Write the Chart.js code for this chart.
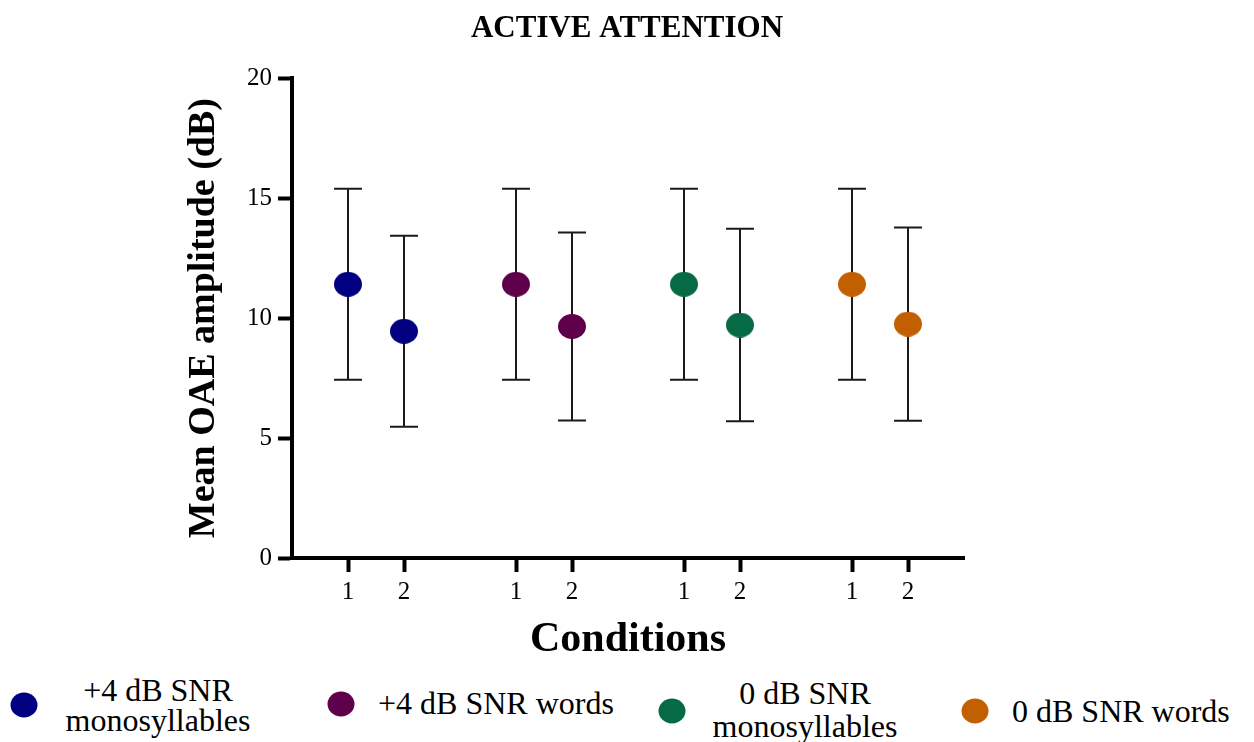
<!DOCTYPE html>
<html>
<head>
<meta charset="utf-8">
<script src="https://cdn.jsdelivr.net/npm/chart.js@4"></script>
<style>
  body { margin: 0; background: #fff; width: 1254px; height: 742px; overflow: hidden; position: relative; font-family: "Liberation Serif", "Times New Roman", serif; }
  #myChart { position: absolute; left: 0; top: 0; }
  .dot { position: absolute; border-radius: 50%; width: 27px; height: 25px; transform: translate(-50%, -50%); }
  .lbl { position: absolute; font-size: 32px; color: #000; white-space: nowrap; }
</style>
</head>
<body>
<canvas id="myChart" width="1254" height="670"></canvas>
<div id="legend"></div>
<script>
  const seriesNames = ['+4 dB SNR monosyllables', '+4 dB SNR words', '0 dB SNR monosyllables', '0 dB SNR words'];
  const seriesColors = ['#000080', '#5e004a', '#066a44', '#c25f00'];
  const conditions = ['1', '2'];
  // mean and SD for condition 1 and 2, one array per series
  const mean4Mono = [11.41, 9.45];
  const mean4Words = [11.41, 9.65];
  const mean0Mono = [11.41, 9.71];
  const mean0Words = [11.41, 9.75];
  const sd4Mono = [3.98, 3.98];
  const sd4Words = [3.98, 3.92];
  const sd0Mono = [3.98, 4.01];
  const sd0Words = [3.98, 4.03];
  const yTicks = [0, 5, 10, 15, 20];

  const means = [mean4Mono, mean4Words, mean0Mono, mean0Words];
  const sds = [sd4Mono, sd4Words, sd0Mono, sd0Words];

  // slot on the x axis: each series takes two slots, then a gap
  const slot = (s, c) => s * 3 + c + 1;
  const xSlots = [];
  const xTickLabels = [];
  seriesNames.forEach((n, s) => conditions.forEach((c, i) => { xSlots.push(slot(s, i)); xTickLabels.push(c); }));

  const makeDot = (color) => {
    const c = document.createElement('canvas');
    c.width = 28; c.height = 25;
    const g = c.getContext('2d');
    g.fillStyle = color;
    g.beginPath();
    g.ellipse(14, 12.5, 14, 12.5, 0, 0, Math.PI * 2);
    g.fill();
    return c;
  };

  const datasets = seriesNames.map((name, s) => ({
    label: name,
    data: conditions.map((c, i) => ({ x: slot(s, i), y: means[s][i], sd: sds[s][i] })),
    pointStyle: makeDot(seriesColors[s]),
    backgroundColor: seriesColors[s],
    borderColor: seriesColors[s],
    pointRadius: 13,
    showLine: false
  }));

  const errorBars = {
    id: 'errorBars',
    beforeDatasetsDraw(chart) {
      const { ctx, scales: { x, y } } = chart;
      ctx.save();
      ctx.strokeStyle = '#1a1a1a';
      ctx.lineWidth = 2;
      chart.data.datasets.forEach(ds => {
        ds.data.forEach(p => {
          const px = x.getPixelForValue(p.x);
          const top = y.getPixelForValue(p.y + p.sd);
          const bot = y.getPixelForValue(p.y - p.sd);
          ctx.beginPath();
          ctx.moveTo(px, top); ctx.lineTo(px, bot);
          ctx.moveTo(px - 14, top); ctx.lineTo(px + 14, top);
          ctx.moveTo(px - 14, bot); ctx.lineTo(px + 14, bot);
          ctx.stroke();
        });
      });
      ctx.restore();
    }
  };

  new Chart(document.getElementById('myChart'), {
    type: 'scatter',
    data: { datasets: datasets },
    plugins: [errorBars],
    options: {
      responsive: false,
      animation: false,
      layout: { padding: 0 },
      plugins: {
        legend: { display: false },
        tooltip: { enabled: false },
        title: {
          display: true,
          text: 'ACTIVE ATTENTION',
          color: '#000',
          font: { family: 'Liberation Serif', size: 31, weight: 'bold' },
          padding: { top: 10, bottom: 31 }
        }
      },
      scales: {
        x: {
          type: 'linear',
          min: 0,
          max: 12,
          afterBuildTicks: (scale) => { scale.ticks = xSlots.map(v => ({ value: v })); },
          afterFit: (scale) => { scale.height = 112; },
          ticks: {
            autoSkip: false,
            maxRotation: 0,
            padding: 5,
            color: '#000',
            font: { family: 'Liberation Serif', size: 25 },
            callback: (value, index) => xTickLabels[index]
          },
          grid: { drawOnChartArea: false, drawTicks: true, tickLength: 14, tickWidth: 4, tickColor: '#000' },
          border: { display: true, width: 4, color: '#000' },
          title: {
            display: true,
            text: 'Conditions',
            color: '#000',
            font: { family: 'Liberation Serif', size: 42, weight: 'bold' },
            padding: { top: 0, bottom: 5 }
          }
        },
        y: {
          min: 0,
          max: 20,
          afterBuildTicks: (scale) => { scale.ticks = yTicks.map(v => ({ value: v })); },
          afterFit: (scale) => { scale.width = 292; },
          ticks: {
            padding: 6,
            color: '#000',
            font: { family: 'Liberation Serif', size: 25 }
          },
          grid: { drawOnChartArea: false, drawTicks: true, tickLength: 14, tickWidth: 4, tickColor: '#000' },
          border: { display: true, width: 4, color: '#000' },
          title: {
            display: true,
            text: 'Mean OAE amplitude (dB)',
            color: '#000',
            font: { family: 'Liberation Serif', size: 38, weight: 'bold' },
            padding: { top: 181, bottom: 0 }
          }
        },
        // empty right-hand space so the title stays centred on the page
        spacer: {
          position: 'right',
          min: 0,
          max: 20,
          afterFit: (scale) => { scale.width = 290; },
          ticks: { display: false },
          grid: { display: false },
          border: { display: false }
        }
      }
    }
  });

  // legend below the chart, split two-word labels like the figure
  const legendSpots = [
    { dot: [24, 705], text: [158, 705], lines: ['+4 dB SNR', 'monosyllables'], lh: 30, center: true },
    { dot: [341, 704], text: [378, 703], lines: ['+4 dB SNR words'], lh: 32 },
    { dot: [672, 711], text: [805, 710], lines: ['0 dB SNR', 'monosyllables'], lh: 33, center: true },
    { dot: [975, 711], text: [1012, 711], lines: ['0 dB SNR words'], lh: 32 }
  ];
  const legend = document.getElementById('legend');
  legendSpots.forEach((spot, i) => {
    const d = document.createElement('div');
    d.className = 'dot';
    d.style.left = spot.dot[0] + 'px';
    d.style.top = spot.dot[1] + 'px';
    d.style.background = seriesColors[i];
    legend.appendChild(d);
    const t = document.createElement('div');
    t.className = 'lbl';
    t.style.lineHeight = spot.lh + 'px';
    t.style.left = spot.text[0] + 'px';
    t.style.top = spot.text[1] + 'px';
    t.style.textAlign = spot.center ? 'center' : 'left';
    t.style.transform = spot.center ? 'translate(-50%, -50%)' : 'translate(0, -50%)';
    t.innerHTML = spot.lines.join('<br>');
    legend.appendChild(t);
  });
</script>
</body>
</html>
